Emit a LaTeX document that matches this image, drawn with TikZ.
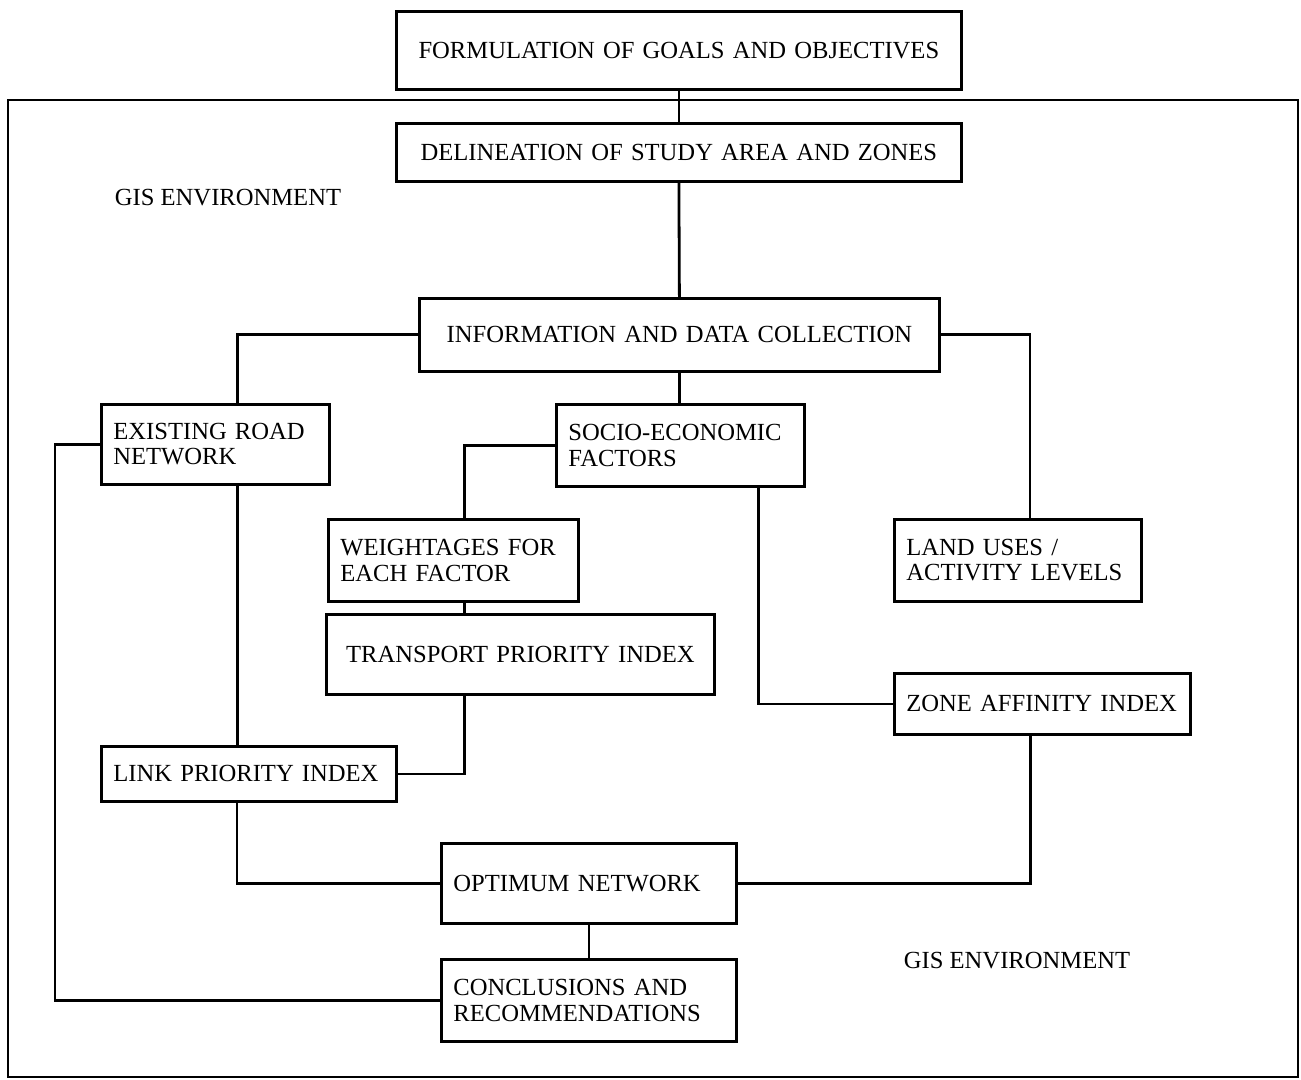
\documentclass[tikz,border=0pt]{standalone}
\usepackage{fontspec}
\setmainfont{Liberation Serif}
\begin{document}
\begin{tikzpicture}[
  x=0.5pt, y=-0.5pt,
  box/.style={draw, line width=1.4pt, align=left, inner xsep=6pt, inner ysep=2pt, anchor=north west, text width=#1, font=\fontsize{12.3}{12.6}\selectfont},
  cbox/.style={box=#1, align=center},
  wire/.style={line width=1.4pt},
  gistext/.style={font=\fontsize{12.3}{12.6}\selectfont}
]
\useasboundingbox (0,0) rectangle (1301,1080);
% GIS environment frame
\draw[wire] (8,100) rectangle (1298,1077);
\node[gistext] (gisleft) at (228,198) {GIS ENVIRONMENT};
\node[gistext] (gisright) at (1017,961) {GIS ENVIRONMENT};
% boxes
\node[cbox=270.5pt, minimum height=39pt] (goals) at (395,10) {FORMULATION OF GOALS AND OBJECTIVES};
\node[cbox=270.5pt, minimum height=29pt] (delin) at (395,122) {DELINEATION OF STUDY AREA AND ZONES};
\node[cbox=248pt, minimum height=36.5pt] (info) at (418,297) {INFORMATION AND DATA COLLECTION};
\node[box=102pt, minimum height=40pt] (road) at (100,403) {EXISTING ROAD\\NETWORK};
\node[box=112pt, minimum height=41pt] (socio) at (555,403) {SOCIO-ECONOMIC\\FACTORS};
\node[box=113pt, minimum height=41pt] (weight) at (327,518) {WEIGHTAGES FOR\\EACH FACTOR};
\node[cbox=182pt, minimum height=40pt] (tpi) at (325,613) {TRANSPORT PRIORITY INDEX};
\node[box=111.5pt, minimum height=41pt] (land) at (893,518) {LAND USES /\\ACTIVITY LEVELS};
\node[box=136pt, minimum height=30.5pt] (zai) at (893,672) {ZONE AFFINITY INDEX};
\node[box=135.5pt, minimum height=27.5pt] (lpi) at (100,745) {LINK PRIORITY INDEX};
\node[box=135.5pt, minimum height=40pt] (optimum) at (440,842) {OPTIMUM NETWORK};
\node[box=135.5pt, minimum height=41pt] (concl) at (440,958) {CONCLUSIONS AND\\RECOMMENDATIONS};
% connectors
\draw[wire] (goals.south) -- (delin.north);
\draw[wire] (delin.south) -- (info.north);
\draw[wire] (info.west) -| ([xshift=11pt]road.north);
\draw[wire] (info.east) -| ([xshift=6pt]land.north);
\draw[wire] (info.south) -- (info.south |- socio.north);
\draw[wire] (socio.west) -| ([xshift=5.5pt]weight.north);
\draw[wire] ([xshift=5.5pt]weight.south) -- ([xshift=5.5pt]weight.south |- tpi.north);
\draw[wire] ([xshift=39pt]socio.south) |- (zai.west);
\draw[wire] ([xshift=-28pt]tpi.south) |- (lpi.east);
\draw[wire] ([xshift=11pt]road.south) -- ([xshift=11pt]road.south |- lpi.north);
\draw[wire] ([xshift=-6pt]lpi.south) |- (optimum.west);
\draw[wire] ([xshift=-6pt]zai.south) |- (optimum.east);
\draw[wire] (optimum.south) -- (concl.north);
\draw[wire] (concl.west) -| ([xshift=-22.5pt]road.west) -- (road.west);
\end{tikzpicture}
\end{document}
